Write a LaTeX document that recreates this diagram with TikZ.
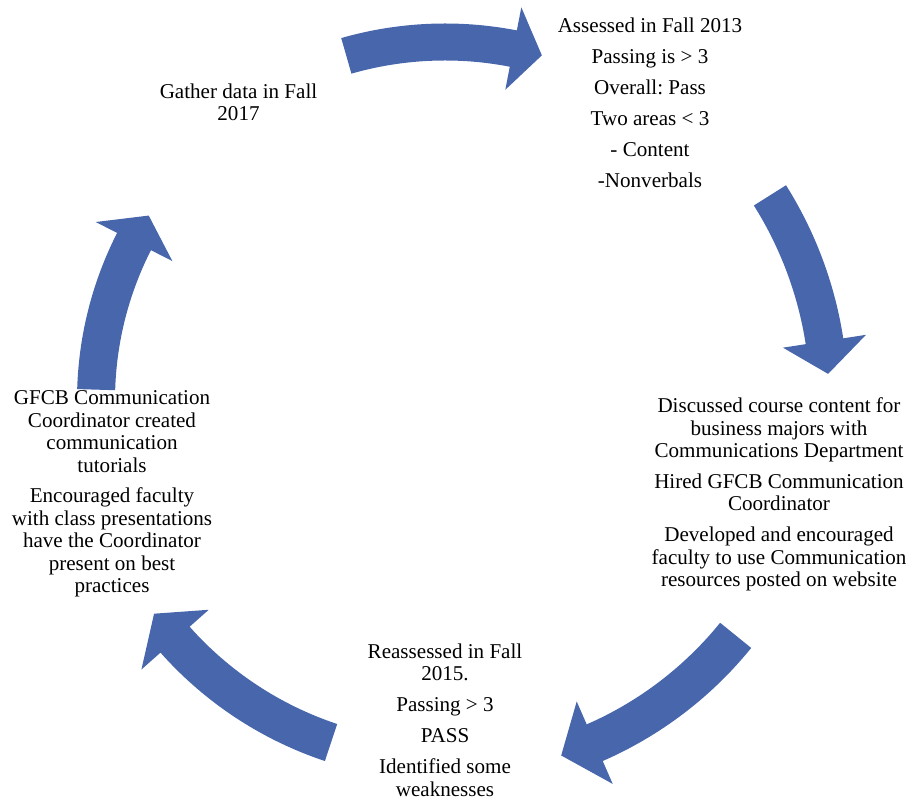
\documentclass[tikz,border=0pt]{standalone}
\usepackage{fontspec}
\setmainfont{Liberation Serif}
\usetikzlibrary{calc}
\definecolor{arrowblue}{RGB}{72,102,172}
\def\cyclearrow(#1)(#2:#3:#4:#5:#6:#7){\fill[cyclefill] ($(#1)+({#4}:{#2+#3})$) arc[start angle=#4, end angle=#5, radius=#2+#3] -- ($(#1)+({#5}:{#2+#7})$) -- ($(#1)+({#6}:{#2})$) -- ($(#1)+({#5}:{#2-#7})$) -- ($(#1)+({#5}:{#2-#3})$) arc[start angle=#5, end angle=#4, radius=#2-#3] -- cycle;}
\frenchspacing

\begin{document}
\begin{tikzpicture}[x=0.02cm, y=0.02cm,
		cyclefill/.style={fill=arrowblue},
		steptext/.style={align=center, inner sep=0pt, font=\fontsize{12}{12.8}\selectfont}]
			%%%%% START %%%%%
			
			\useasboundingbox (0, 0) rectangle (912, 797);
			\coordinate (hub) at (445, 397);
			
			\node[steptext] (gather) at (238.5, 694.5) {Gather data in Fall\\2017};
			\node[steptext] (assessed) at (650, 694.5) {Assessed in Fall 2013\\[4.8pt]Passing is > 3\\[4.8pt]Overall: Pass\\[4.8pt]Two areas < 3\\[4.8pt]- Content\\[4.8pt]-Nonverbals};
			\node[steptext] (discussed) at (779, 302.5) {Discussed course content for\\business majors with\\Communications Department\\[4.8pt]Hired GFCB Communication\\Coordinator\\[4.8pt]Developed and encouraged\\faculty to use Communication\\resources posted on website};
			\node[steptext] (reassessed) at (445, 77) {Reassessed in Fall\\2015.\\[4.8pt]Passing > 3\\[4.8pt]PASS\\[4.8pt]Identified some\\weaknesses};
			\node[steptext] (tutorials) at (112, 303) {GFCB Communication\\Coordinator created\\communication\\tutorials\\[4.8pt]Encouraged faculty\\with class presentations\\have the Coordinator\\present on best\\practices};
			
			% arrows round the hub: radius, half width, tail, head base, tip, barb
			\cyclearrow(hub)(358:18.5:106:79:74.3:42)
			\cyclearrow(hub)(384:19:32.2:8.8:3.9:42)
			\cyclearrow(hub)(374:20:-39:-66.4:-71.9:45)
			\cyclearrow(hub)(361:19.5:-108.4:-138.4:-143.7:45)
			\cyclearrow(hub)(349:19:178.3:153:148.1:43)
			
			%%%%% END %%%%%
\end{tikzpicture}
\end{document}
